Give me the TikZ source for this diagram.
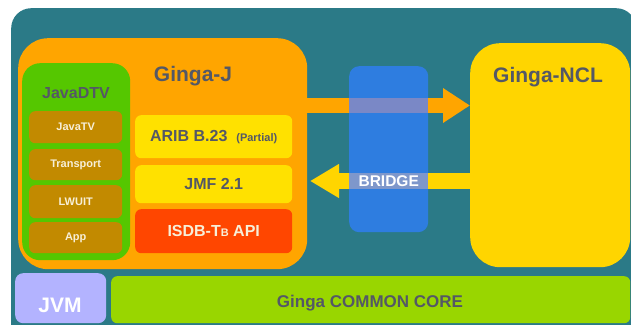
\documentclass[tikz,border=0pt]{standalone}
\usepackage{fontspec}
\setmainfont{Liberation Sans}
\usetikzlibrary{arrows.meta}

\definecolor{tealbg}{HTML}{2B7A87}
\definecolor{orangeJ}{HTML}{FFA500}
\definecolor{greenDTV}{HTML}{55C700}
\definecolor{brownC}{HTML}{C28A00}
\definecolor{yellowA}{HTML}{FFE100}
\definecolor{redI}{HTML}{FF4600}
\definecolor{blueB}{HTML}{2E7DE0}
\definecolor{yellowN}{HTML}{FFD500}
\definecolor{lavJVM}{HTML}{B3B3FF}
\definecolor{limeC}{HTML}{99D600}
\definecolor{mixtop}{HTML}{7A88C6}
\definecolor{mixbot}{HTML}{7E97CB}
\definecolor{txtgray}{HTML}{545866}
\definecolor{cream}{HTML}{F7EFD8}

\tikzset{
  box/.style={anchor=north west, inner sep=0pt},
  title/.style={font=\bfseries\fontsize{21}{21}\selectfont, text=txtgray},
  subbox/.style={box, fill=brownC, rounded corners=6pt, minimum width=93pt,
    text=cream, font=\bfseries\fontsize{11}{11}\selectfont},
  apibox/.style={box, fill=yellowA, rounded corners=6pt, minimum width=157pt,
    text=txtgray, font=\bfseries\fontsize{16}{16}\selectfont},
}

\begin{document}
\begin{tikzpicture}[x=1pt,y=-1pt]
\useasboundingbox (0,0) rectangle (631,324);

% Background
\node[box, fill=tealbg, rounded corners=20pt, minimum width=625pt, minimum height=340pt] (bg) at (11,8) {};

% Ginga-J
\node[box, fill=orangeJ, rounded corners=30pt, minimum width=289pt, minimum height=231pt] (gingaj) at (18,38) {};
\node[title] (gingajlbl) at (193,76) {Ginga-J};

% JavaDTV
\node[box, fill=greenDTV, rounded corners=18pt, minimum width=108pt, minimum height=197pt] (javadtv) at (22,63) {};
\node[title, font=\bfseries\fontsize{16}{16}\selectfont] (javadtvlbl) at (76,93) {JavaDTV};
\node[subbox, minimum height=32pt] (javatv) at (29,111) {JavaTV};
\node[subbox, minimum height=31pt] (transport) at (29,149) {Transport};
\node[subbox, minimum height=33pt] (lwuit) at (29,185) {LWUIT};
\node[subbox, minimum height=31pt] (app) at (29,222) {App};

% APIs
\node[apibox, minimum height=43pt] (arib) at (135,115) {ARIB B.23\ \ {\fontsize{11}{11}\selectfont(Partial)}};
\node[apibox, minimum height=38pt] (jmf) at (135,165) {JMF 2.1};
\node[apibox, fill=redI, text=cream, minimum height=44pt] (isdb) at (135,209) {ISDB-T{\fontsize{11}{11}\selectfont B} API};

% Bridge and Ginga-NCL
\node[box, fill=blueB, rounded corners=10pt, minimum width=79pt, minimum height=166pt] (bridge) at (349,66) {};
\node[box, fill=yellowN, rounded corners=30pt, minimum width=160pt, minimum height=224pt] (ncl) at (470,43) {};
\node[title] (ncllbl) at (548,77) {Ginga-NCL};

% Arrows
\coordinate (jout) at (300,105.5);
\coordinate (jin) at (310,181);
\draw[line width=15pt, orangeJ, -{Triangle[length=27pt,width=33pt]}] (gingaj.east |- jout) -- (ncl.west |- jout);
\draw[line width=16pt, yellowN, -{Triangle[length=29pt,width=32pt]}] (ncl.west |- jin) -- (jin);
\fill[mixtop] (bridge.west |- 0,98) rectangle (bridge.east |- 0,113);
\fill[mixbot] (bridge.west |- 0,173) rectangle (bridge.east |- 0,189);
\node[font=\bfseries\fontsize{15.5}{15.5}\selectfont, text=white] (bridgelbl) at (bridge.center |- jin) {BRIDGE};

% Bottom layer
\node[box, fill=lavJVM, rounded corners=8pt, minimum width=91pt, minimum height=50pt] (jvm) at (15,273) {};
\node[font=\bfseries\fontsize{21}{21}\selectfont, text=white] (jvmlbl) at (60,305) {JVM};
\node[box, fill=limeC, rounded corners=6pt, minimum width=519pt, minimum height=47pt] (core) at (111,276) {};
\node[font=\bfseries\fontsize{17}{17}\selectfont, text=txtgray] (corelbl) at (370,303) {Ginga COMMON CORE};

\end{tikzpicture}
\end{document}
